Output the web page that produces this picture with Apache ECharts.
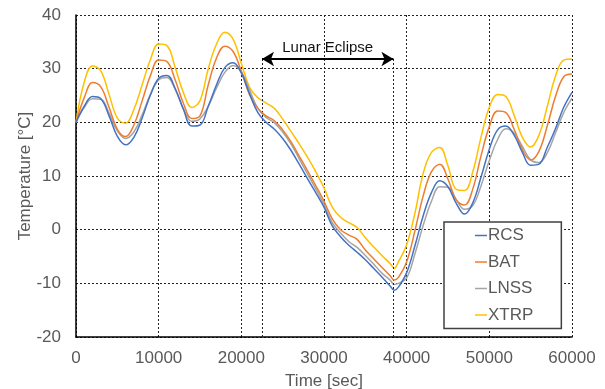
<!DOCTYPE html>
<html>
<head>
<meta charset="utf-8">
<script src="https://cdn.jsdelivr.net/npm/echarts@6/dist/echarts.min.js"></script>
<style>
  html, body { margin: 0; padding: 0; background: #fff; }
  #chart { width: 605px; height: 389px; }
</style>
</head>
<body>
<div id="chart"></div>
<script>
// time axis, seconds (extra sample at the eclipse minimum)
const times = [
  0, 1000, 2000, 3000, 4000, 5000, 6000, 7000, 8000, 9000,
  10000, 11000, 12000, 13000, 14000, 15000, 16000, 17000, 18000, 19000,
  20000, 21000, 22000, 23000, 24000, 25000, 26000, 27000, 28000, 29000,
  30000, 31000, 32000, 33000, 34000, 35000, 36000, 37000, 38000, 38500, 39000,
  40000, 41000, 42000, 43000, 44000, 45000, 46000, 47000, 48000, 49000,
  50000, 51000, 52000, 53000, 54000, 55000, 56000, 57000, 58000, 59000,
  60000
];

// temperatures, °C
const rcs = [
  20, 23.0, 24.8, 24.4, 21.2, 17.4, 15.8, 17.2, 20.8, 25.1,
  28.2, 28.75, 26.3, 22.4, 19.3, 19.5, 23.0, 27.0, 30.2, 31.1,
  29.2, 25.3, 21.8, 20.0, 18.7, 17.0, 14.8, 12.2, 9.5, 6.9,
  4.2, 0.7, -1.3, -2.9, -4.2, -5.6, -7.2, -8.8, -10.5, -11.3, -10.7,
  -8.0, -3.0, 2.6, 6.9, 9.1, 8.0, 4.9, 2.9, 5.0, 9.8,
  15.0, 18.6, 19.3, 17.6, 14.4, 12.0, 12.2, 15.3, 18.8, 22.8,
  25.6
];
const bat = [
  20, 24.6, 27.4, 26.6, 22.8, 18.7, 17.35, 19.5, 24.0, 28.7,
  31.6, 31.3, 27.9, 23.5, 20.7, 21.2, 27.0, 32.0, 34.2, 33.2,
  29.5, 25.1, 22.6, 21.2, 20.3, 18.6, 16.4, 13.7, 11.0, 8.2,
  5.3, 2.0, 0.0, -1.0, -1.8, -3.8, -5.4, -7.0, -8.6, -9.4, -8.9,
  -6.0, -0.2, 6.3, 10.8, 12.2, 9.4, 5.5, 4.6, 7.6, 13.8,
  19.2, 22.1, 21.8, 18.7, 14.9, 13.0, 14.6, 19.3, 24.8, 28.5,
  29.0
];
const lnss = [
  20, 22.8, 24.4, 24.3, 21.7, 18.4, 17.0, 18.2, 21.4, 25.2,
  27.9, 28.35, 26.1, 22.5, 20.2, 20.65, 23.0, 26.4, 29.3, 30.6,
  29.4, 26.0, 22.6, 20.9, 19.9, 18.2, 16.0, 13.2, 10.4, 7.6,
  4.7, 1.3, -0.6, -2.2, -3.3, -4.8, -6.4, -8.1, -9.4, -10.2, -10.0,
  -9.0, -4.5, 0.8, 5.3, 8.0, 7.9, 5.6, 3.8, 4.5, 8.2,
  12.9, 16.8, 18.8, 18.0, 15.5, 13.0, 12.5, 14.3, 18.0, 21.8,
  24.5
];
const xtrp = [
  20, 27.5, 30.5, 29.6, 25.2, 20.8, 19.85, 22.4, 27.0, 31.7,
  34.6, 34.3, 30.2, 25.5, 22.75, 24.05, 30.0, 34.6, 36.8, 35.5,
  31.0, 26.5, 24.6, 23.6, 22.6, 20.6, 18.3, 16.0, 13.5, 10.8,
  7.8, 4.2, 2.3, 1.3, 0.4, -1.5, -3.2, -4.8, -6.3, -7.2, -6.0,
  -2.8, 3.1, 10.5, 14.4, 15.3, 11.85, 7.5, 7.3, 10.8, 17.3,
  22.8, 25.2, 24.8, 21.3, 17.2, 15.4, 17.6, 22.9, 28.6, 31.6,
  31.8
];

const seriesNames = ["RCS", "BAT", "LNSS", "XTRP"];
const seriesValues = [rcs, bat, lnss, xtrp];
const seriesColors = ["#4472C4", "#ED7D31", "#A5A5A5", "#FFC000"];

// lunar eclipse window
const eclipseStart = 22500;
const eclipseEnd = 38400;
const eclipseLevel = 31.8;

const chart = echarts.init(document.getElementById("chart"));
const font = "Liberation Sans, Arial, sans-serif";

const series = seriesNames.map((name, k) => ({
  name: name,
  type: "line",
  smooth: 0.4,
  showSymbol: false,
  data: times.map((t, i) => [t, seriesValues[k][i]]),
  lineStyle: { width: 1.5, color: seriesColors[k] },
  itemStyle: { color: seriesColors[k] },
  z: 3 + (3 - k)
}));

// eclipse markers hung on the first series
series[0].markLine = {
  silent: true,
  animation: false,
  symbol: "none",
  label: { show: false },
  data: [
    [
      { coord: [eclipseStart, -20], lineStyle: { type: [2, 2], color: "#222", width: 1 } },
      { coord: [eclipseStart, eclipseLevel] }
    ],
    [
      { coord: [eclipseEnd, -20], lineStyle: { type: [2, 2], color: "#222", width: 1 } },
      { coord: [eclipseEnd, eclipseLevel] }
    ],
    [
      {
        coord: [eclipseStart, eclipseLevel],
        symbol: "arrow",
        symbolSize: [11, 12],
        lineStyle: { type: "solid", color: "#000", width: 2 },
        label: {
          show: true,
          formatter: "Lunar Eclipse",
          position: "insideMiddleTop",
          distance: 4,
          color: "#111",
          fontSize: 15,
          fontFamily: font
        }
      },
      { coord: [eclipseEnd, eclipseLevel], symbol: "arrow", symbolSize: [11, 12] }
    ]
  ]
};

const option = {
  animation: false,
  grid: { left: 76, top: 15, right: 33, bottom: 52, outerBoundsMode: "none" },
  legend: {
    data: seriesNames,
    orient: "vertical",
    left: 444,
    top: 222,
    icon: "rect",
    itemWidth: 12,
    itemHeight: 1.5,
    itemGap: 9.5,
    padding: [5, 28, 5, 31],
    borderColor: "#404040",
    borderWidth: 1.5,
    backgroundColor: "#fff",
    textStyle: { color: "#595959", fontSize: 17, fontFamily: font, padding: [0, 0, 0, -4] }
  },
  xAxis: {
    type: "value",
    min: 0,
    max: 60000,
    interval: 10000,
    name: "Time [sec]",
    nameLocation: "middle",
    nameGap: 36,
    nameMoveOverlap: false,
    nameTextStyle: { color: "#595959", fontSize: 17, fontFamily: font },
    axisLine: { show: true, onZero: false, lineStyle: { color: "#000", width: 1.5 } },
    axisTick: { show: false },
    axisLabel: { color: "#595959", fontSize: 17, fontFamily: font, margin: 13, formatter: (v) => String(v) },
    splitLine: { show: true, lineStyle: { type: [2, 2], color: "#222", width: 1 } }
  },
  yAxis: {
    type: "value",
    min: -20,
    max: 40,
    interval: 10,
    name: "Temperature [°C]",
    nameLocation: "middle",
    nameGap: 42,
    nameMoveOverlap: false,
    nameTextStyle: { color: "#595959", fontSize: 17, fontFamily: font },
    axisLine: { show: true, onZero: false, lineStyle: { color: "#000", width: 1.5 } },
    axisTick: { show: false },
    axisLabel: { color: "#595959", fontSize: 17, fontFamily: font, margin: 15 },
    splitLine: { show: true, lineStyle: { type: [2, 2], color: "#222", width: 1 } }
  },
  series: series
};

chart.setOption(option);
</script>
</body>
</html>
